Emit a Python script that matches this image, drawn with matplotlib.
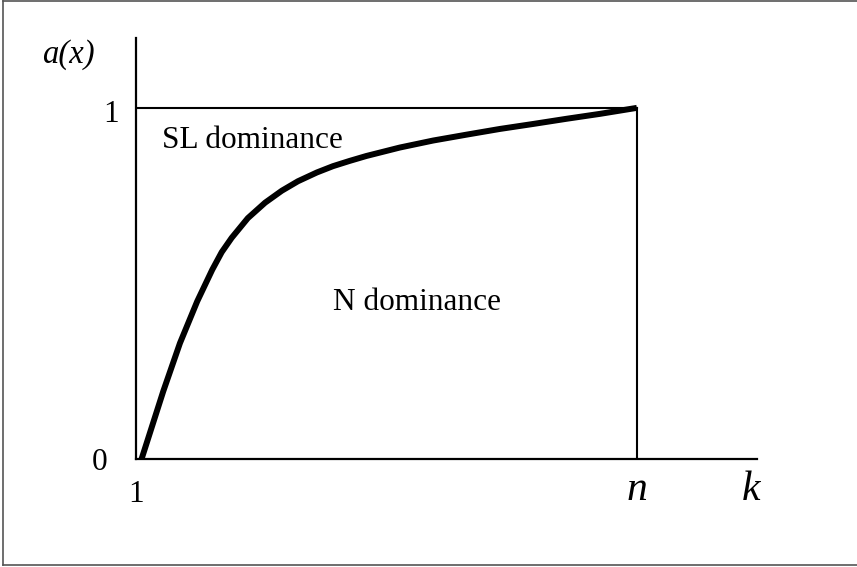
import matplotlib
matplotlib.use("Agg")
import matplotlib.pyplot as plt
from matplotlib.lines import Line2D

plt.rcParams['font.family'] = ['Liberation Serif', 'DejaVu Serif']

# curve a(x) versus k (k runs from 1 to n, n drawn at 10)
n = 10
k_vals = [1.10, 1.49, 1.79, 2.10, 2.37, 2.54, 2.72, 3.01, 3.32, 3.62, 3.91,
          4.25, 4.54, 4.84, 5.14, 5.44, 5.74, 6.34, 6.95, 7.54, 8.13, 8.74,
          9.34, 10.0]
a_vals = [0.0, 0.193, 0.330, 0.449, 0.539, 0.589, 0.630, 0.686, 0.730, 0.764,
          0.791, 0.816, 0.834, 0.849, 0.863, 0.875, 0.887, 0.907, 0.924, 0.940,
          0.954, 0.969, 0.983, 1.0]

W, H = 857, 567
fig = plt.figure(figsize=(W / 100, H / 100), dpi=100)
ax = fig.add_axes([136 / W, 1 - 459 / H, (757 - 136) / W, (459 - 38) / H])

ax.plot(k_vals, a_vals, color='black', lw=4.3, solid_capstyle='butt',
        solid_joinstyle='round')
ax.plot([1, n], [1, 1], color='black', lw=1.5)
ax.plot([n, n], [0, 1], color='black', lw=1.5)

ax.set_xlim(1, 12.16)
ax.set_ylim(0, 1.199)
for s in ['top', 'right']:
    ax.spines[s].set_visible(False)
for s in ['left', 'bottom']:
    ax.spines[s].set_linewidth(1.6)
ax.set_xticks([])
ax.set_yticks([])

fs = 22.5
ax.text(-0.22, 1.128, 'a(x)', style='italic', fontsize=23.5, ha='center', va='baseline')
ax.text(0.55, 0.960, '1', fontsize=fs, ha='center', va='baseline')
ax.text(0.353, -0.031, '0', fontsize=fs, ha='center', va='baseline', clip_on=False)
ax.text(1.0, -0.1225, '1', fontsize=fs, ha='center', va='baseline', clip_on=False)
ax.text(n, -0.117, 'n', style='italic', fontsize=30, ha='center', va='baseline', clip_on=False)
ax.text(12.05, -0.117, 'k', style='italic', fontsize=30, ha='center', va='baseline', clip_on=False)
ax.text(1.46, 0.885, 'SL dominance', fontsize=fs, ha='left', va='baseline')
ax.text(4.54, 0.425, 'N dominance', fontsize=fs, ha='left', va='baseline')

# frame around the figure
c = '#555555'
fig.add_artist(Line2D([3 / W, 1], [1 - 1 / H, 1 - 1 / H], color=c, lw=1.2))
fig.add_artist(Line2D([3 / W, 3 / W], [1 - 1 / H, 1 - 565 / H], color=c, lw=1.2))
fig.add_artist(Line2D([3 / W, 1], [1 - 565 / H, 1 - 565 / H], color=c, lw=1.2))

fig.savefig('out.png', dpi=100)
